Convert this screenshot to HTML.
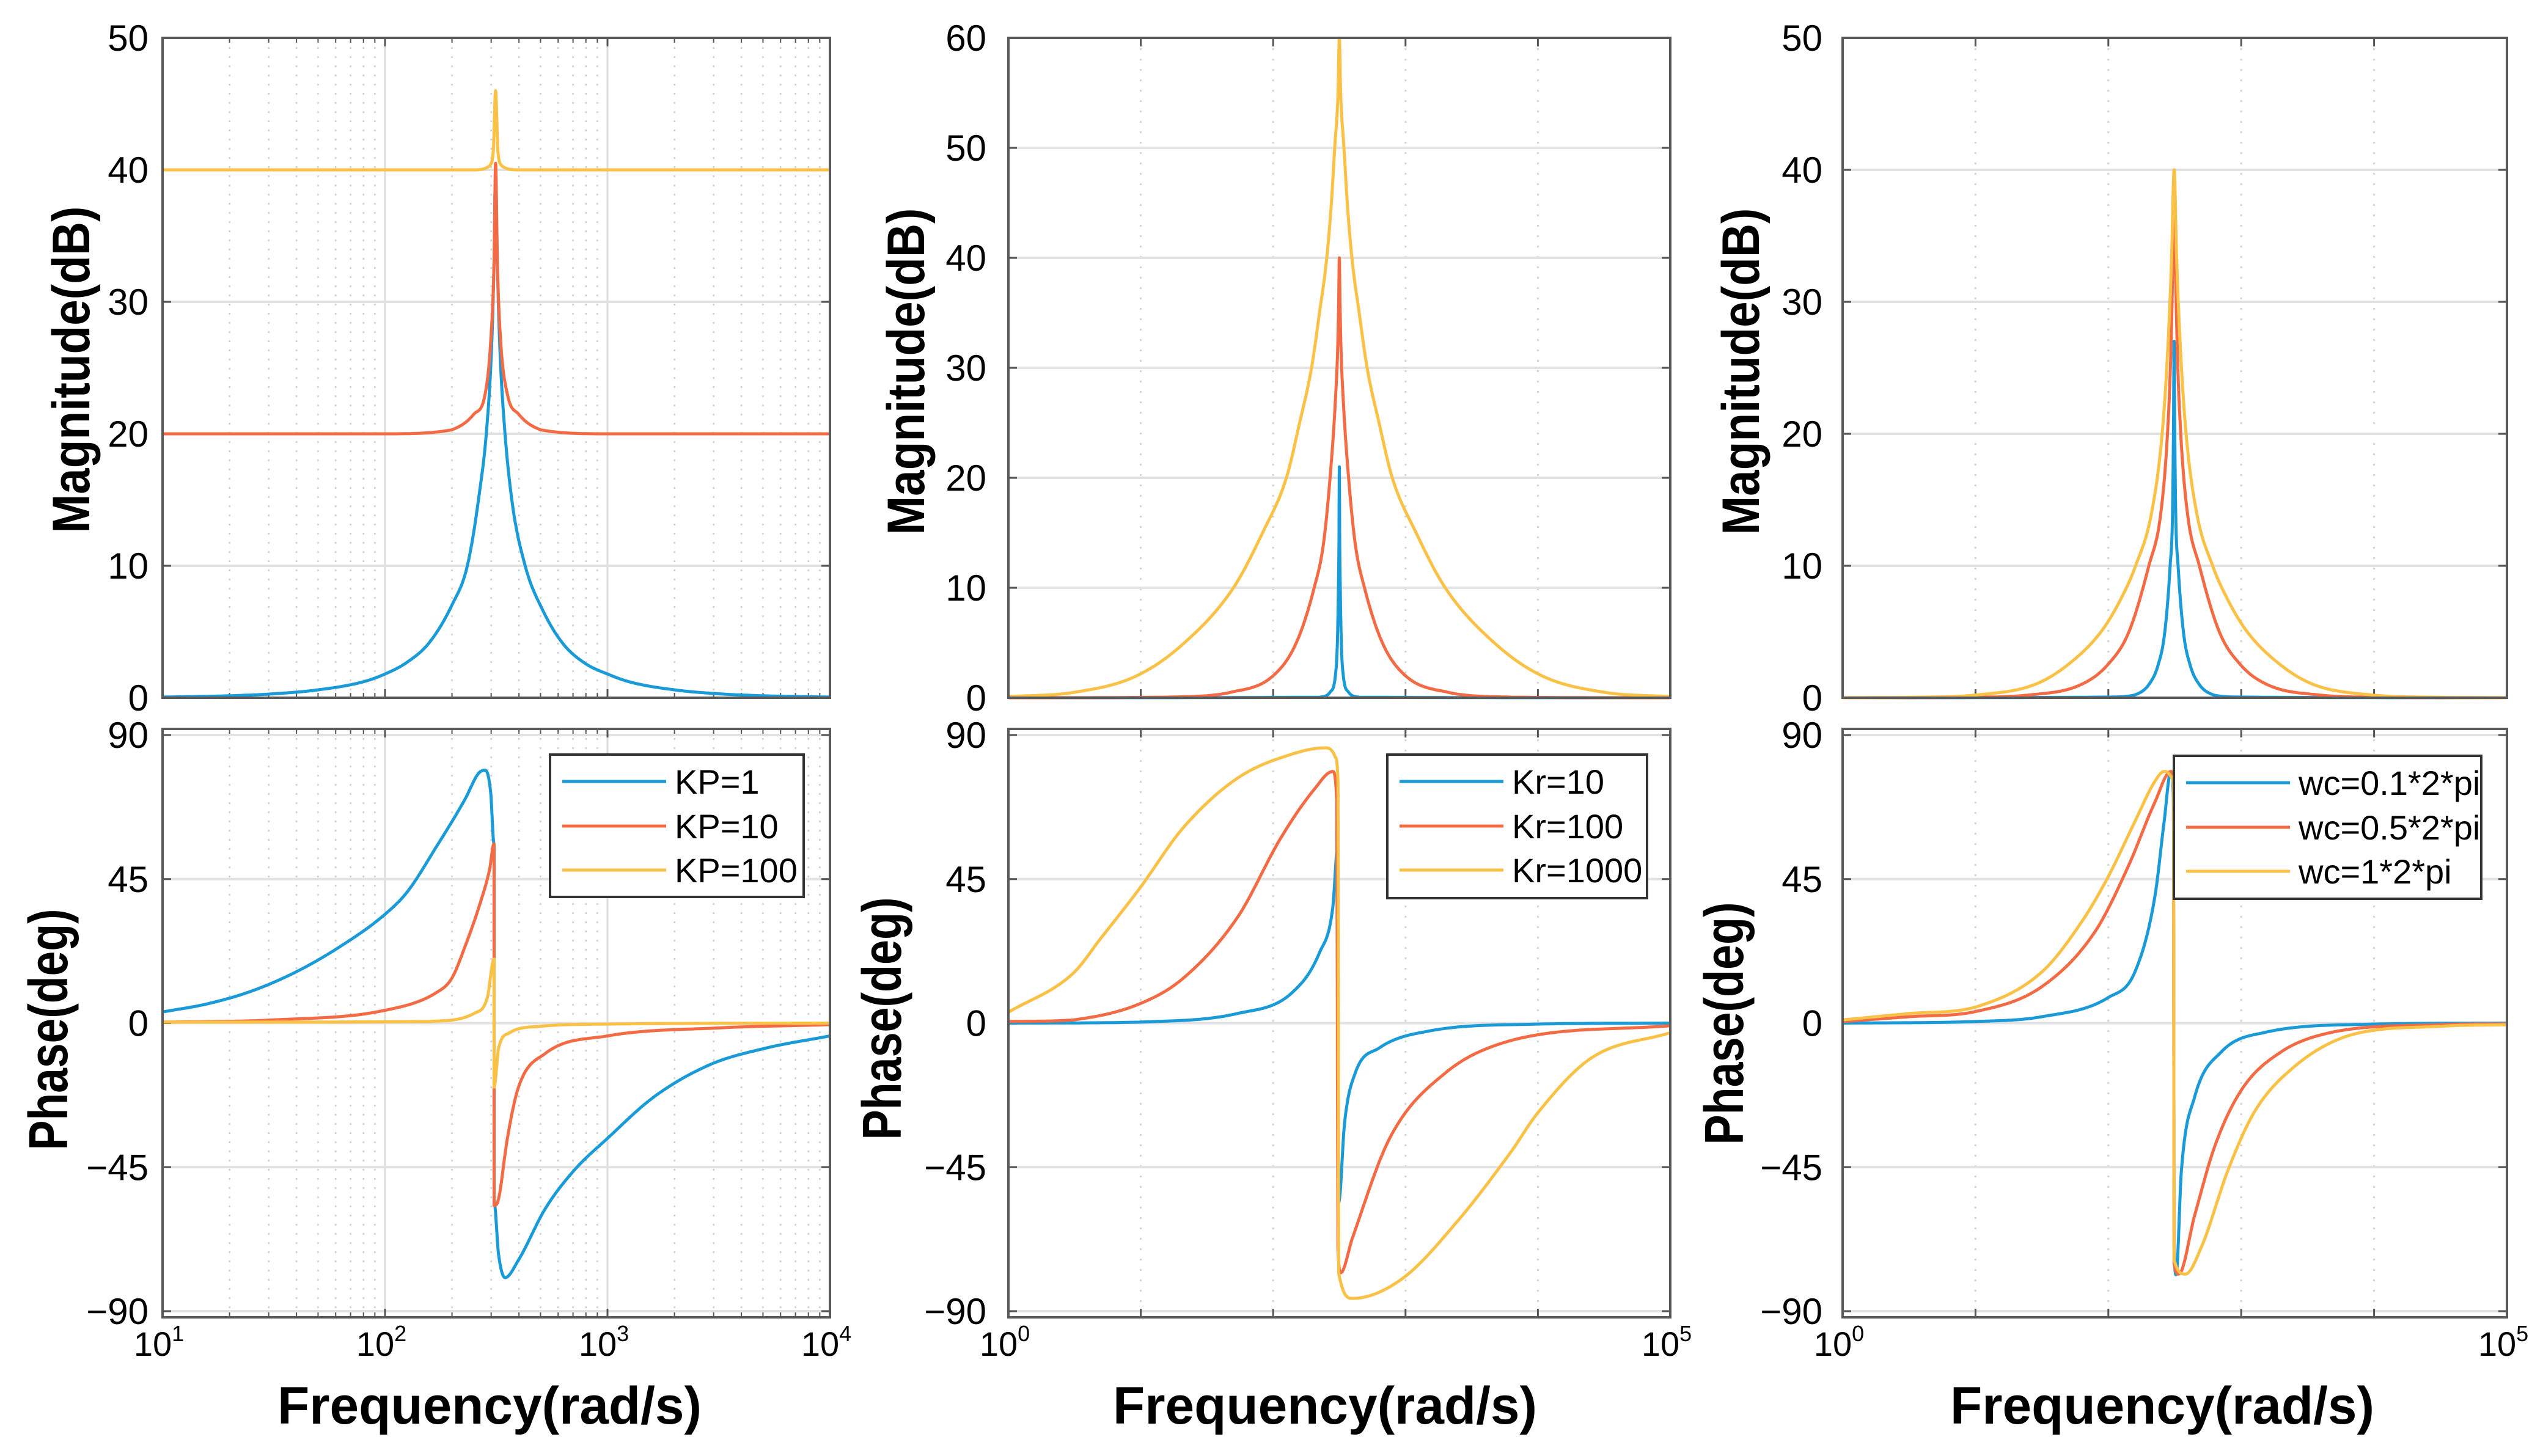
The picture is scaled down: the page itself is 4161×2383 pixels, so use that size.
<!DOCTYPE html>
<html><head><meta charset="utf-8"><style>
html,body{margin:0;padding:0;background:#fff}
svg{display:block}
text{font-family:"Liberation Sans",Arial,sans-serif;fill:#000}
</style></head><body>
<svg id="fig" xmlns="http://www.w3.org/2000/svg" width="4161" height="2383" viewBox="0 0 4161 2383"></svg>
<script>
// ---- Data (log10 frequency, value) ----
// Panel 1: KP variation, magnitude (dB)
const p1MagBlueX=[1,1.3,1.5,1.7,1.9,2,2.1,2.2,2.3,2.37,2.42,2.46,2.48,2.49,2.497,2.505,2.515,2.535,2.57,2.63,2.71,2.8,2.9,3,3.1,3.3,3.5,3.7,4];
const p1MagBlueY=[0.05,0.15,0.3,0.6,1.2,1.8,2.7,4.2,7,10,15,21,27,33,40,33,27,21,15,10,6.6,4.1,2.6,1.8,1.2,0.6,0.3,0.15,0.05];
const p1MagOrangeX=[1,2,2.3,2.4,2.45,2.475,2.49,2.497,2.505,2.52,2.55,2.6,2.7,3,4];
const p1MagOrangeY=[20,20,20.3,21.5,23,27,33,40.5,33,27,23,21.5,20.3,20,20];
const p1MagYellowX=[1,2.4,2.47,2.487,2.497,2.507,2.525,2.6,4];
const p1MagYellowY=[40,40,40.3,41.5,46,41.5,40.3,40,40];
// Panel 1 phase (deg)
const p1PhBlueX=[1,1.2,1.4,1.6,1.8,2,2.1,2.23,2.36,2.42,2.45,2.475,2.49,2.4905,2.51,2.54,2.6,2.72,2.85,3,3.21,3.46,3.7,4];
const p1PhBlueY=[3.5,6,10,16,24,34,41,55,70,78,79,72,56,-56,-72,-79.5,-74,-58,-46,-36,-23,-13,-8,-4];
const p1PhOrangeX=[1,1.5,2,2.23,2.3,2.36,2.43,2.47,2.49,2.4905,2.51,2.55,2.6,2.72,3,3.5,4];
const p1PhOrangeY=[0.3,1,4,9.5,14,24,38,48,56,-57,-55,-36,-20,-9.5,-4,-1.5,-0.5];
const p1PhYellowX=[1,2.2,2.4,2.46,2.49,2.4905,2.51,2.56,2.7,3,4];
const p1PhYellowY=[0.3,0.5,3,8,20,-20,-8,-3,-1,-0.3,0];
// Panel 2: Kr variation
const p2MagBlueX=[0,2.35,2.43,2.47,2.485,2.493,2.497,2.5,2.503,2.507,2.515,2.53,2.57,2.65,5];
const p2MagBlueY=[0,0.05,0.5,2,5,10,14,21,14,10,5,2,0.5,0.05,0];
const p2MagOrangeX=[0,1.2,1.68,2.0,2.175,2.31,2.38,2.43,2.47,2.488,2.495,2.5,2.505,2.512,2.53,2.57,2.62,2.69,2.825,3.0,3.32,3.8,5];
const p2MagOrangeY=[0,0.05,0.5,2,5,10,14,20,27,32,36,40,36,32,27,20,14,10,5,2,0.5,0.05,0];
const p2MagYellowX=[0,0.5,0.97,1.33,1.7,1.92,2.1,2.2,2.29,2.35,2.405,2.44,2.465,2.49,2.5,2.51,2.535,2.56,2.595,2.65,2.71,2.8,2.9,3.08,3.3,3.67,4.03,4.5,5];
const p2MagYellowY=[0.1,0.5,2,5,10,15,20,25,30,35,40,45,50,55,60,55,50,45,40,35,30,25,20,15,10,5,2,0.5,0.1];
const p2PhBlueX=[0,0.99,1.73,2.14,2.35,2.45,2.49,2.495,2.54,2.62,2.8,3.2,4,5];
const p2PhBlueY=[0,0.3,3,9.4,22,36,56,-56,-31,-15.6,-7.8,-2.3,-0.3,0];
const p2PhOrangeX=[0,0.49,0.99,1.32,1.73,2.06,2.31,2.45,2.48,2.49,2.51,2.6,2.88,3.3,3.79,5];
const p2PhOrangeY=[0.5,1,6,14,33,58,73,78.6,70,-70,-78,-67,-36,-15.6,-5.5,-0.8];
const p2PhYellowX=[0,0.49,0.7,0.99,1.32,1.73,2.14,2.39,2.47,2.49,2.495,2.6,2.97,3.38,3.79,4.0,4.4,5];
const p2PhYellowY=[3.4,15.6,26.6,42,61,76.5,84,86,83,75,-78,-86,-80,-62.5,-40.6,-28,-11,-3];
// Panel 3: wc variation
const p3MagBlueX=[0,2.0,2.195,2.305,2.375,2.425,2.465,2.483,2.49,2.495,2.5,2.507,2.525,2.565,2.615,2.685,2.795,3.0,5];
const p3MagBlueY=[0,0.05,0.2,1,2.5,5,10,14,20,27,20,14,10,5,2.5,1,0.2,0.05,0];
const p3MagOrangeX=[0,0.9,1.395,1.795,1.995,2.155,2.305,2.395,2.445,2.47,2.485,2.495,2.505,2.52,2.545,2.595,2.685,2.835,2.995,3.195,3.595,4.1,5];
const p3MagOrangeY=[0,0.03,0.2,1,2.5,5,10,14,20,26,33,40,33,26,20,14,10,5,2.5,1,0.2,0.03,0];
const p3MagYellowX=[0,0.495,0.995,1.445,1.695,1.945,2.095,2.205,2.325,2.405,2.445,2.475,2.495,2.515,2.545,2.585,2.665,2.785,2.895,3.045,3.295,3.545,3.995,4.495,5];
const p3MagYellowY=[0,0.03,0.2,1,2.5,5,7.5,10,14,20,26,33,40,33,26,20,14,10,7.5,5,2.5,1,0.2,0.03,0];
const p3PhBlueX=[0,1,1.5,2,2.2,2.35,2.42,2.47,2.49,2.495,2.51,2.55,2.65,2.85,3.2,4,5];
const p3PhBlueY=[0,0.5,2,8,16,39.5,63,78.6,70,-70,-78.6,-46,-23,-9,-2.7,-0.3,0];
const p3PhOrangeX=[0,0.5,1,1.5,1.9,2.15,2.35,2.47,2.49,2.495,2.53,2.65,2.8,3,3.3,3.7,4.5,5];
const p3PhOrangeY=[0.5,2,3.6,11.4,28.6,49,69,78.6,75,-75,-78.4,-60,-38.6,-21,-9,-2.7,-0.5,-0.2];
const p3PhYellowX=[0,0.5,1,1.5,1.8,2,2.2,2.35,2.42,2.47,2.49,2.495,2.58,2.7,2.9,3.1,3.4,3.8,4.5,5];
const p3PhYellowY=[1,3,5,16,31.7,45.8,63,75.5,78.6,77,74,-74,-78.4,-70,-46,-27.7,-13.6,-4,-1,-0.5];
// Tick labels / legends
const magTicks1=[0,10,20,30,40,50];
const magTicks2=[0,10,20,30,40,50,60];
const phaseTicks=[-90,-45,0,45,90];
const phaseTickLabels=["\u221290","\u221245","0","45","90"];
const legend1=["KP=1","KP=10","KP=100"];
const legend2=["Kr=10","Kr=100","Kr=1000"];
const legend3=["wc=0.1*2*pi","wc=0.5*2*pi","wc=1*2*pi"];

const COLORS=["#1a9bd7","#f26b45","#f9c146"];
const NS="http://www.w3.org/2000/svg";
const svg=document.getElementById('fig');
function el(tag,attrs,parent){const e=document.createElementNS(NS,tag);for(const k in attrs)e.setAttribute(k,attrs[k]);(parent||svg).appendChild(e);return e;}

function monotone(xs,ys,fx,fy){
  const n=xs.length;const pts=[];
  const d=[],m=new Array(n).fill(0);
  for(let i=0;i<n-1;i++){const dx=xs[i+1]-xs[i];d.push(dx>1e-3?(ys[i+1]-ys[i])/dx:0);}
  for(let i=1;i<n-1;i++){m[i]=(d[i-1]*d[i]<=0)?0:(d[i-1]+d[i])/2;}
  m[0]=d[0];m[n-1]=d[n-2];
  for(let i=0;i<n-1;i++){
    const h=xs[i+1]-xs[i];
    if(h<1e-3){pts.push([fx(xs[i]),fy(ys[i])]);continue;}
    let a=m[i],b=m[i+1];
    if(d[i]===0){a=0;b=0;}else{const al=a/d[i],be=b/d[i],s=al*al+be*be;if(s>9){const t=3/Math.sqrt(s);a=t*al*d[i];b=t*be*d[i];}}
    for(let k=0;k<24;k++){const t=k/24,t2=t*t,t3=t2*t;
      const y=(2*t3-3*t2+1)*ys[i]+(t3-2*t2+t)*h*a+(-2*t3+3*t2)*ys[i+1]+(t3-t2)*h*b;
      pts.push([fx(xs[i]+t*h),fy(y)]);}
  }
  pts.push([fx(xs[n-1]),fy(ys[n-1])]);
  return pts.map(p=>p[0].toFixed(1)+','+p[1].toFixed(1)).join(' ');
}

function axes(o){
  const g=el('g',{});
  
  
  const fx=v=>o.x0+(v-o.xmin)/(o.xmax-o.xmin)*(o.x1-o.x0);
  const fy=v=>o.yv1+(v-o.ymin)/(o.ymax-o.ymin)*(o.yv0-o.yv1);
  el('rect',{x:o.x0,y:o.top,width:o.x1-o.x0,height:o.bot-o.top,fill:'#fff'},g);
  if(o.minor){for(let dd=o.xmin;dd<o.xmax;dd++)for(let k=2;k<=9;k++){const x=fx(dd+Math.log10(k));
    el('line',{x1:x,x2:x,y1:o.top,y2:o.bot,stroke:'#cfcfcf','stroke-width':2.5,'stroke-dasharray':'3 12'},g);}}
  for(let dd=o.xmin+1;dd<o.xmax;dd++){const x=fx(dd);
    el('line',{x1:x,x2:x,y1:o.top,y2:o.bot,stroke:o.minor?'#dcdcdc':'#d4d4d4','stroke-width':3,'stroke-dasharray':o.minor?'none':'3 14'},g);}
  o.yt.forEach(v=>{const y=fy(v);el('line',{x1:o.x0,x2:o.x1,y1:y,y2:y,stroke:'#e2e2e2','stroke-width':4},g);});
  o.yt.forEach(v=>{const y=fy(v);el('line',{x1:o.x0,x2:o.x0+14,y1:y,y2:y,stroke:'#555','stroke-width':3},g);el('line',{x1:o.x1-14,x2:o.x1,y1:y,y2:y,stroke:'#555','stroke-width':3},g);});
  for(let dd=o.xmin;dd<=o.xmax;dd++){const x=fx(dd);el('line',{x1:x,x2:x,y1:o.bot-14,y2:o.bot,stroke:'#555','stroke-width':3},g);el('line',{x1:x,x2:x,y1:o.top,y2:o.top+14,stroke:'#555','stroke-width':3},g);
    if(o.minor&&dd<o.xmax)for(let k=2;k<=9;k++){const xm=fx(dd+Math.log10(k));el('line',{x1:xm,x2:xm,y1:o.bot-8,y2:o.bot,stroke:'#555','stroke-width':2},g);el('line',{x1:xm,x2:xm,y1:o.top,y2:o.top+8,stroke:'#555','stroke-width':2},g);}}
  o.series.forEach((s,i)=>{const p=el('polyline',{points:monotone(s[0],s[1],fx,fy),fill:'none',stroke:COLORS[i],'stroke-width':5,'stroke-linejoin':'round'},g);
    
    });
  el('rect',{x:o.x0,y:o.top,width:o.x1-o.x0,height:o.bot-o.top,fill:'none',stroke:'#5a5a5a','stroke-width':4},g);
  o.yt.forEach((v,i)=>{const t=el('text',{x:o.labX,y:fy(v)+21,'text-anchor':'end','font-size':60},g);t.textContent=o.ytl?o.ytl[i]:String(v);
    
    });
  return {g,fx,fy};
}
function ytitle(txt,x,cy,len,size,name){const t=el('text',{x:0,y:0,transform:`translate(${x},${cy}) rotate(-90)`,'text-anchor':'middle','font-size':size,'font-weight':'bold',textLength:len,lengthAdjust:'spacingAndGlyphs'});t.textContent=txt;
  
  }
function xlabels(o,list){list.forEach(d=>{const x=o.x0+(d.v-o.xmin)/(o.xmax-o.xmin)*(o.x1-o.x0);
  const t=el('text',{x:x-6,y:2219,'text-anchor':'middle','font-size':56});
  
  
  t.appendChild(document.createTextNode('10'));const s=el('tspan',{dy:-24,'font-size':36},t);s.textContent=String(d.v);});}
function xtitle(cx){const t=el('text',{x:cx,y:2330,'text-anchor':'middle','font-size':86,'font-weight':'bold',textLength:694,lengthAdjust:'spacingAndGlyphs'});t.textContent='Frequency(rad/s)';
  
  }
function legend(x0,y0,x1,y1,labels,name){const g=el('g',{});
  
  
  el('rect',{x:x0,y:y0,width:x1-x0,height:y1-y0,fill:'#fff',stroke:'#333','stroke-width':4},g);
  const rows=[y0+44,y0+117,y0+189];
  labels.forEach((l,i)=>{el('line',{x1:x0+20,x2:x0+190,y1:rows[i],y2:rows[i],stroke:COLORS[i],'stroke-width':5},g);
    const t=el('text',{x:x0+204,y:rows[i]+20,'font-size':56},g);t.textContent=l;
    
    });}

const MT=62,MB=1142,PT=1193,PB=2156,P90=1203,PM90=2146;
const P=[{x0:266,x1:1358,xmin:1,xmax:4,minor:true,labX:243},{x0:1650,x1:2733,xmin:0,xmax:5,minor:false,labX:1614},{x0:3015,x1:4102,xmin:0,xmax:5,minor:false,labX:2982}];
const magSeries=[[[p1MagBlueX,p1MagBlueY],[p1MagOrangeX,p1MagOrangeY],[p1MagYellowX,p1MagYellowY]],
  [[p2MagBlueX,p2MagBlueY],[p2MagOrangeX,p2MagOrangeY],[p2MagYellowX,p2MagYellowY]],
  [[p3MagBlueX,p3MagBlueY],[p3MagOrangeX,p3MagOrangeY],[p3MagYellowX,p3MagYellowY]]];
const phSeries=[[[p1PhBlueX,p1PhBlueY],[p1PhOrangeX,p1PhOrangeY],[p1PhYellowX,p1PhYellowY]],
  [[p2PhBlueX,p2PhBlueY],[p2PhOrangeX,p2PhOrangeY],[p2PhYellowX,p2PhYellowY]],
  [[p3PhBlueX,p3PhBlueY],[p3PhOrangeX,p3PhOrangeY],[p3PhYellowX,p3PhYellowY]]];
const magT=[magTicks1,magTicks2,magTicks1];
P.forEach((p,i)=>{
  const mt=magT[i];
  axes(Object.assign({},p,{name:'magnitude-axes-'+(i+1),top:MT,bot:MB,yv0:MT,yv1:MB,ymin:0,ymax:mt[mt.length-1],yt:mt,series:magSeries[i]}));
  axes(Object.assign({},p,{name:'phase-axes-'+(i+1),top:PT,bot:PB,yv0:P90,yv1:PM90,ymin:-90,ymax:90,yt:phaseTicks,ytl:phaseTickLabels,series:phSeries[i]}));
});
ytitle('Magnitude(dB)',146,605,535,86,'magnitude-y-title-1');
ytitle('Magnitude(dB)',1512,608,535,86,'magnitude-y-title-2');
ytitle('Magnitude(dB)',2878,608,535,86,'magnitude-y-title-3');
ytitle('Phase(deg)',110,1685,395,90,'phase-y-title-1');
ytitle('Phase(deg)',1474,1667,397,90,'phase-y-title-2');
ytitle('Phase(deg)',2852,1675,397,90,'phase-y-title-3');
xlabels(P[0],[{v:1},{v:2},{v:3},{v:4}]);
xlabels(P[1],[{v:0},{v:5}]);
xlabels(P[2],[{v:0},{v:5}]);
xtitle(801);xtitle(2168);xtitle(3538);
legend(900,1235,1315,1468,legend1,'legend-kp');
legend(2270,1235,2695,1470,legend2,'legend-kr');
legend(3557,1237,4060,1471,legend3,'legend-wc');
</script>
</body></html>
